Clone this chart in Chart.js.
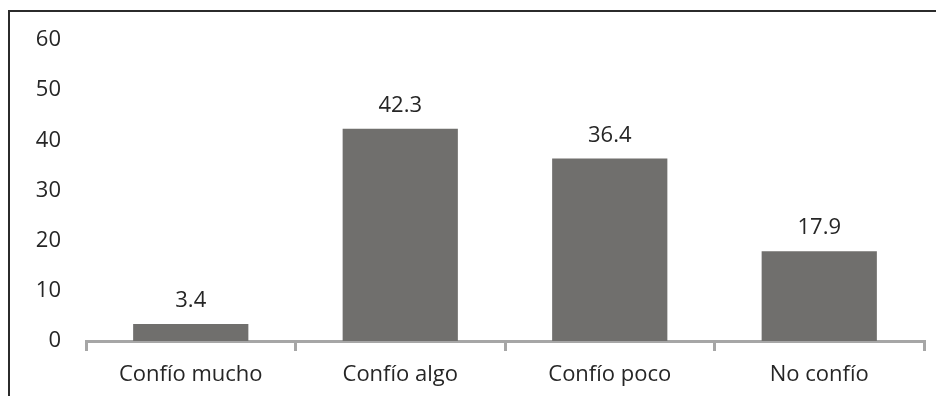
<!DOCTYPE html>
<html>
<head>
<meta charset="utf-8">
<script src="https://cdn.jsdelivr.net/npm/chart.js@4/dist/chart.umd.min.js"></script>
<style>
  html, body { margin: 0; padding: 0; background: #ffffff; }
  #wrap { width: 936px; height: 396px; position: relative; }
</style>
</head>
<body>
<div id="wrap"><canvas id="c" width="936" height="396"></canvas></div>
<script>
// Survey: level of confidence (%)
const categories = ['Confío mucho', 'Confío algo', 'Confío poco', 'No confío'];
const values = [3.4, 42.3, 36.4, 17.9];
const yTicks = [0, 10, 20, 30, 40, 50, 60];

const FONT = '"Open Sans", "DejaVu Sans", sans-serif';
const TEXT = '#262626';
const SIZE = 22;

// Partial frame around the chart (top and left edges)
const framePlugin = {
  id: 'frame',
  afterDraw(chart) {
    const ctx = chart.ctx;
    ctx.save();
    ctx.strokeStyle = '#2b2b2b';
    ctx.lineWidth = 2;
    ctx.beginPath();
    ctx.moveTo(9, 396);
    ctx.lineTo(9, 11);
    ctx.lineTo(936, 11);
    ctx.stroke();
    ctx.restore();
  }
};

// Value labels above each bar
const valueLabels = {
  id: 'valueLabels',
  afterDatasetsDraw(chart) {
    const ctx = chart.ctx;
    const meta = chart.getDatasetMeta(0);
    ctx.save();
    ctx.fillStyle = TEXT;
    ctx.font = SIZE + 'px ' + FONT;
    ctx.textAlign = 'center';
    ctx.textBaseline = 'middle';
    meta.data.forEach((bar, i) => {
      ctx.fillText(values[i].toFixed(1), bar.x, bar.y - 23);
    });
    ctx.restore();
  }
};

new Chart(document.getElementById('c'), {
  type: 'bar',
  data: {
    labels: categories,
    datasets: [{
      data: values,
      backgroundColor: '#706f6d',
      borderWidth: 0,
      barPercentage: 0.55,
      categoryPercentage: 1.0
    }]
  },
  options: {
    responsive: false,
    animation: false,
    devicePixelRatio: 1,
    layout: { padding: { top: 40, right: 12, bottom: 0, left: 0 } },
    plugins: { legend: { display: false }, tooltip: { enabled: false } },
    scales: {
      x: {
        afterFit(scale) { scale.height = 55; },
        grid: {
          display: true,
          drawOnChartArea: false,
          drawTicks: true,
          tickLength: 10,
          color: '#a6a6a6',
          lineWidth: 3,
          offset: true
        },
        border: { display: true, color: '#a6a6a6', width: 3 },
        ticks: { color: TEXT, font: { family: FONT, size: SIZE }, padding: 11 }
      },
      y: {
        min: 0,
        max: 60,
        afterBuildTicks(scale) { scale.ticks = yTicks.map(v => ({ value: v })); },
        afterFit(scale) { scale.width = 86; },
        grid: { display: false },
        border: { display: false },
        ticks: { color: TEXT, font: { family: FONT, size: SIZE }, padding: 17 }
      }
    }
  },
  plugins: [framePlugin, valueLabels]
});
</script>
</body>
</html>
